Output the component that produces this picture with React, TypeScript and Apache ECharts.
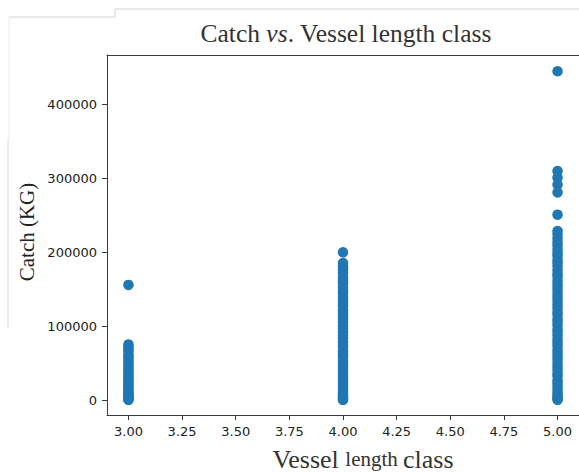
import React, { useEffect, useRef } from "react";
import * as echarts from "echarts";

const lengthClasses = [3, 4, 5];
const catchClass3 = [156000, 75500, 72000, 68500, 66000, 61500, 58500, 55000, 51500, 48000, 44500, 41000, 38500, 35000, 32000, 29500, 26000, 23000, 20500, 17500, 15000, 12500, 10000, 8000, 6000, 4500, 3000, 2000, 1200, 500];
const catchClass4 = [200000, 185500, 181000, 176500, 172000, 166000, 161000, 157500, 152000, 148000, 144500, 139000, 135500, 131000, 127500, 122000, 118000, 114500, 110000, 105500, 101000, 97000, 92500, 88000, 84500, 79000, 75000, 71500, 66000, 62000, 58500, 53000, 49500, 45000, 41000, 36500, 32000, 28500, 24000, 20000, 16500, 12000, 9000, 6000, 3500, 1500, 500];
const catchClass5 = [445000, 310000, 301000, 291500, 281000, 251000, 229000, 224500, 219000, 214000, 209500, 204000, 199000, 195500, 190000, 186000, 181500, 176000, 171000, 167500, 162000, 157000, 152500, 148000, 143000, 138500, 134000, 129000, 124500, 119000, 115500, 110000, 106000, 101500, 96000, 92000, 87500, 82000, 78000, 73500, 68000, 64000, 59500, 55000, 50000, 45500, 41000, 36000, 32500, 27000, 23000, 18500, 14000, 10000, 7000, 4000, 2000, 500];
const xTicks = [3.0, 3.25, 3.5, 3.75, 4.0, 4.25, 4.5, 4.75, 5.0];
const yTicks = [0, 100000, 200000, 300000, 400000];

export default function App() {
  const ref = useRef<HTMLDivElement>(null);
  useEffect(() => {
    if (!ref.current) return;
    const chart = echarts.init(ref.current, undefined, { renderer: "svg" });
    const groups = [catchClass3, catchClass4, catchClass5];
    const data: number[][] = [];
    groups.forEach((arr, i) => arr.forEach((v) => data.push([lengthClasses[i], v])));
    const axisColor = "#3a3a3a";
    const labelColor = "#222";
    const light = "#d4d4d4";
    chart.setOption({
      animation: false,
      grid: { left: 107, top: 55, width: 476, height: 360 },
      xAxis: [
        {
          type: "value",
          min: 2.9,
          max: 5.1,
          axisLine: { show: true, onZero: false, lineStyle: { color: axisColor, width: 1 } },
          axisTick: { show: true, length: 5, customValues: xTicks, lineStyle: { color: axisColor } },
          axisLabel: {
            customValues: xTicks,
            formatter: (v: number) => v.toFixed(2),
            color: labelColor,
            fontFamily: "DejaVu Sans",
            fontSize: 13,
            margin: 10,
          },
          splitLine: { show: false },
        },
        {
          type: "value",
          position: "top",
          min: 2.9,
          max: 5.1,
          axisLine: { show: true, onZero: false, lineStyle: { color: axisColor, width: 1 } },
          axisTick: { show: false },
          axisLabel: { show: false },
          splitLine: { show: false },
        },
      ],
      yAxis: {
        type: "value",
        min: -20000,
        max: 467000,
        axisLine: { show: true, onZero: false, lineStyle: { color: axisColor, width: 1 } },
        axisTick: { show: true, length: 5, customValues: yTicks, lineStyle: { color: axisColor } },
        axisLabel: {
          customValues: yTicks,
          formatter: (v: number) => String(v),
          color: labelColor,
          fontFamily: "DejaVu Sans",
          fontSize: 13,
          margin: 10,
        },
        splitLine: { show: false },
      },
      series: [
        {
          type: "scatter",
          xAxisIndex: 0,
          data,
          symbolSize: 10.5,
          itemStyle: { color: "#1f77b4", opacity: 1 },
        },
      ],
      graphic: [
        { type: "line", shape: { x1: 9, y1: 17, x2: 115, y2: 17 }, style: { stroke: light, lineWidth: 1 } },
        { type: "line", shape: { x1: 115, y1: 17, x2: 115, y2: 9 }, style: { stroke: light, lineWidth: 1 } },
        { type: "line", shape: { x1: 115, y1: 9, x2: 579, y2: 9 }, style: { stroke: light, lineWidth: 1 } },
        { type: "line", shape: { x1: 9, y1: 17, x2: 9, y2: 139 }, style: { stroke: "#ececec", lineWidth: 1 } },
        { type: "line", shape: { x1: 8, y1: 139, x2: 8, y2: 328 }, style: { stroke: light, lineWidth: 1 } },
        {
          type: "text",
          x: 346,
          y: 33,
          style: {
            text: "{n|Catch }{i|vs}{n|. Vessel length class}",
            align: "center",
            verticalAlign: "middle",
            rich: {
              n: { fontFamily: "Liberation Serif", fontSize: 25.5, fill: "#333" },
              i: { fontFamily: "Liberation Serif", fontSize: 25.5, fontStyle: "italic", fill: "#333" },
            },
          },
        },
        {
          type: "text",
          x: 363,
          y: 459,
          style: {
            text: "{b|Vessel }{s|length }{b|class}",
            align: "center",
            verticalAlign: "middle",
            rich: {
              b: { fontFamily: "Liberation Serif", fontSize: 26, fill: "#333" },
              s: { fontFamily: "Liberation Serif", fontSize: 21, fill: "#333" },
            },
          },
        },
        {
          type: "text",
          x: 26.5,
          y: 232,
          rotation: Math.PI / 2,
          style: {
            text: "Catch (KG)",
            align: "center",
            verticalAlign: "middle",
            fontFamily: "Liberation Serif",
            fontSize: 21,
            fill: "#222",
          },
        },
      ],
    });
    return () => chart.dispose();
  }, []);
  return (
    <div
      ref={ref}
      style={{ position: "absolute", left: 0, top: 0, width: 579, height: 473, background: "#fff" }}
    />
  );
}
